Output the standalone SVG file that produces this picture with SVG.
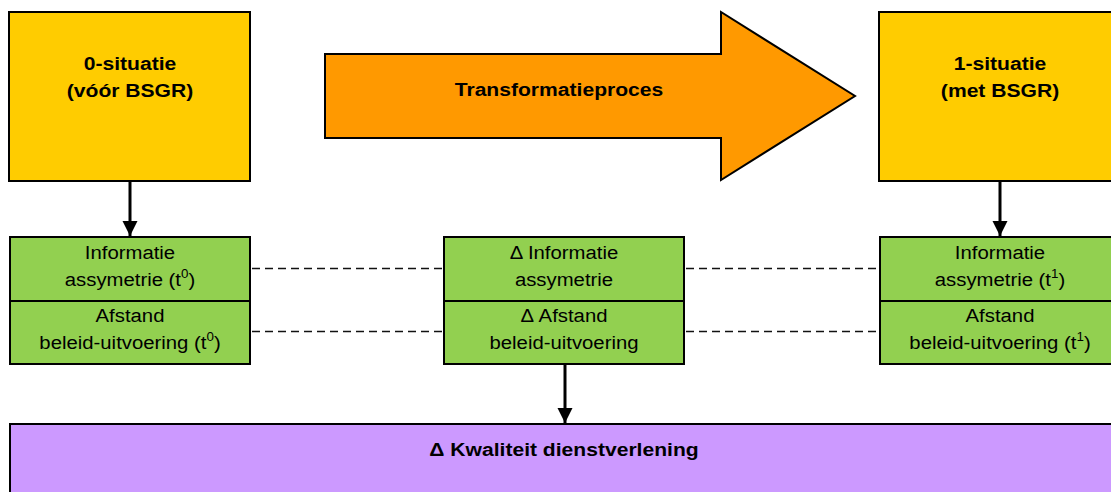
<svg xmlns="http://www.w3.org/2000/svg" width="1111" height="492" viewBox="0 0 1111 492">
  <defs>
    <style>
      .box { stroke: #000; stroke-width: 2; }
      .yellow { fill: #FFCC00; }
      .green { fill: #92D050; }
      .orange { fill: #FF9900; }
      .purple { fill: #CC99FF; }
      .bold { font-family: "Liberation Sans", Arial, sans-serif; font-weight: bold; font-size: 18.5px; fill: #000; text-anchor: middle; }
      .reg { font-family: "Liberation Sans", Arial, sans-serif; font-size: 19px; fill: #000; text-anchor: middle; }
      .sup { font-size: 12.5px; }
      .link { stroke: #000; stroke-width: 3; fill: none; }
      .dash { stroke: #111; stroke-width: 1.5; stroke-dasharray: 8 5; fill: none; }
    </style>
    <marker id="head" viewBox="0 0 10 10" refX="10" refY="5" markerWidth="5" markerHeight="5.3" orient="auto" markerUnits="strokeWidth">
      <path d="M0,0 L10,5 L0,10 Z" fill="#000"/>
    </marker>
  </defs>

  <!-- starting situation -->
  <g id="situatie0">
    <rect class="box yellow" x="9" y="12" width="241" height="169"/>
    <text class="bold" transform="translate(130,70) scale(1.14,1)">0-situatie</text>
    <text class="bold" transform="translate(130,97) scale(1.14,1)">(vóór BSGR)</text>
  </g>

  <!-- transformation arrow -->
  <g id="transformatie">
    <path class="box orange" d="M325,54 L721,54 L721,12 L855,96 L721,180 L721,138 L325,138 Z"/>
    <text class="bold" transform="translate(559,95.5) scale(1.14,1)">Transformatieproces</text>
  </g>

  <!-- resulting situation -->
  <g id="situatie1">
    <rect class="box yellow" x="879" y="12" width="241" height="169"/>
    <text class="bold" transform="translate(1000,70) scale(1.14,1)">1-situatie</text>
    <text class="bold" transform="translate(1000,97) scale(1.14,1)">(met BSGR)</text>
  </g>

  <!-- indicators at t0 -->
  <g id="indicatoren0">
    <rect class="box green" x="10" y="237" width="240" height="64"/>
    <rect class="box green" x="10" y="301" width="240" height="63"/>
    <text class="reg" transform="translate(130,258.5) scale(1.07,1)">Informatie</text>
    <text class="reg" transform="translate(130,285.5) scale(1.07,1)">assymetrie (t<tspan class="sup" dy="-8">0</tspan><tspan dy="8">)</tspan></text>
    <text class="reg" transform="translate(130,321.5) scale(1.07,1)">Afstand</text>
    <text class="reg" transform="translate(130,348.5) scale(1.07,1)">beleid-uitvoering (t<tspan class="sup" dy="-8">0</tspan><tspan dy="8">)</tspan></text>
  </g>

  <!-- differences -->
  <g id="verschil">
    <rect class="box green" x="444" y="237" width="240" height="64"/>
    <rect class="box green" x="444" y="301" width="240" height="63"/>
    <text class="reg" transform="translate(564,258.5) scale(1.07,1)">Δ Informatie</text>
    <text class="reg" transform="translate(564,285.5) scale(1.07,1)">assymetrie</text>
    <text class="reg" transform="translate(564,321.5) scale(1.07,1)">Δ Afstand</text>
    <text class="reg" transform="translate(564,348.5) scale(1.07,1)">beleid-uitvoering</text>
  </g>

  <!-- indicators at t1 -->
  <g id="indicatoren1">
    <rect class="box green" x="880" y="237" width="240" height="64"/>
    <rect class="box green" x="880" y="301" width="240" height="63"/>
    <text class="reg" transform="translate(1000,258.5) scale(1.07,1)">Informatie</text>
    <text class="reg" transform="translate(1000,285.5) scale(1.07,1)">assymetrie (t<tspan class="sup" dy="-8">1</tspan><tspan dy="8">)</tspan></text>
    <text class="reg" transform="translate(1000,321.5) scale(1.07,1)">Afstand</text>
    <text class="reg" transform="translate(1000,348.5) scale(1.07,1)">beleid-uitvoering (t<tspan class="sup" dy="-8">1</tspan><tspan dy="8">)</tspan></text>
  </g>

  <!-- service quality -->
  <g id="kwaliteit">
    <rect class="box purple" x="10" y="424" width="1120" height="90"/>
    <text class="bold" transform="translate(564,456) scale(1.14,1)">Δ Kwaliteit dienstverlening</text>
  </g>

  <!-- connectors -->
  <g id="connectors">
    <line class="link" x1="130" y1="181" x2="130" y2="236" marker-end="url(#head)"/>
    <line class="link" x1="1000" y1="181" x2="1000" y2="236" marker-end="url(#head)"/>
    <line class="link" x1="565" y1="364" x2="565" y2="423" marker-end="url(#head)"/>
    <line class="dash" x1="252" y1="268.5" x2="443" y2="268.5"/>
    <line class="dash" x1="252" y1="331.5" x2="443" y2="331.5"/>
    <line class="dash" x1="686" y1="268.5" x2="879" y2="268.5"/>
    <line class="dash" x1="686" y1="331.5" x2="879" y2="331.5"/>
  </g>
</svg>
